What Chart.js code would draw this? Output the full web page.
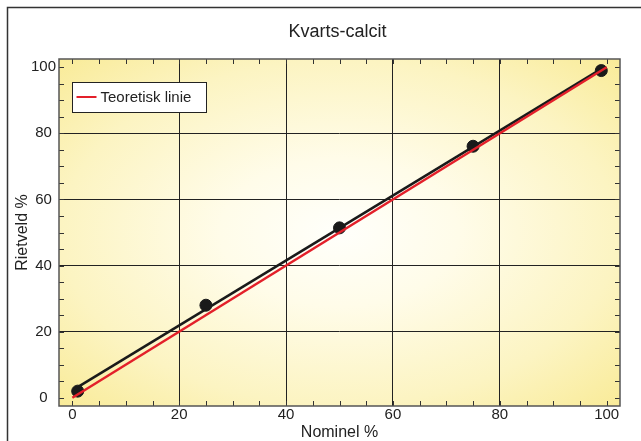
<!DOCTYPE html>
<html>
<head>
<meta charset="utf-8">
<script src="https://cdn.jsdelivr.net/npm/chart.js@4"></script>
<style>
  body { margin: 0; background: #fff; }
</style>
</head>
<body>
<canvas id="chart" width="641" height="441"></canvas>
<script>
const chartTitle = 'Kvarts-calcit';
const xTitle = 'Nominel %';
const yTitle = 'Rietveld %';
const legendLabel = 'Teoretisk linie';

// målte punkter
const nominel = [1, 25, 50, 75, 99];
const rietveld = [2, 28, 51.4, 76.1, 99];

// regressionslinje (sort) og teoretisk linie (rød)
const fitX = [1, 99];
const fitY = [3.2, 99.5];
const teoX = [0, 100];
const teoY = [0, 100];

const axisTicks = [0, 20, 40, 60, 80, 100];
const minorTicks = [0, 5, 10, 15, 20, 25, 30, 35, 40, 45, 50, 55, 60, 65, 70, 75, 80, 85, 90, 95, 100];

const FONT = '"Liberation Sans", Arial, Helvetica, sans-serif';
const INK = '#222';

function toXY(xs, ys) {
  return xs.map((x, i) => ({ x: x, y: ys[i] }));
}

function gridColor(ctx) {
  const v = ctx.tick ? ctx.tick.value : null;
  return (v === axisTicks[0] || v === axisTicks[axisTicks.length - 1]) ? 'rgba(0,0,0,0)' : '#222';
}

const decor = {
  id: 'decor',
  beforeDraw(chart) {
    const c = chart.ctx;
    const a = chart.chartArea;
    // ydre ramme
    c.save();
    c.strokeStyle = '#333';
    c.lineWidth = 1.5;
    c.strokeRect(7.5, 7.5, 660, 460);
    // titel
    c.fillStyle = INK;
    c.font = '18px ' + FONT;
    c.textAlign = 'center';
    c.textBaseline = 'middle';
    c.fillText(chartTitle, (a.left + a.right) / 2 - 2, 32);
    // gul baggrund
    const w = a.right - a.left, h = a.bottom - a.top;
    c.beginPath();
    c.rect(a.left, a.top, w, h);
    c.clip();
    c.translate((a.left + a.right) / 2, (a.top + a.bottom) / 2);
    c.scale(w / h, 1);
    const r = h / 2 * Math.SQRT2;
    const g = c.createRadialGradient(0, 0, 0, 0, 0, r);
    g.addColorStop(0, '#fffffb');
    g.addColorStop(0.3, '#fffce9');
    g.addColorStop(0.7, '#fcf4c2');
    g.addColorStop(1, '#f9eb98');
    c.fillStyle = g;
    c.fillRect(-2 * r, -2 * r, 4 * r, 4 * r);
    c.restore();
  },
  afterDatasetsDraw(chart) {
    const c = chart.ctx;
    const a = chart.chartArea;
    const xs = chart.scales.x, ys = chart.scales.y;
    c.save();
    // små indadvendte streger
    c.strokeStyle = '#333';
    c.lineWidth = 1;
    c.beginPath();
    minorTicks.forEach(v => {
      const px = Math.round(xs.getPixelForValue(v)) + 0.5;
      c.moveTo(px, a.bottom); c.lineTo(px, a.bottom - 5);
      c.moveTo(px, a.top); c.lineTo(px, a.top + 5);
      const py = Math.round(ys.getPixelForValue(v)) + 0.5;
      c.moveTo(a.left, py); c.lineTo(a.left + 5, py);
      c.moveTo(a.right, py); c.lineTo(a.right - 5, py);
    });
    c.stroke();
    // plotramme
    c.strokeStyle = '#555';
    c.lineWidth = 1.5;
    c.strokeRect(a.left, a.top, a.right - a.left, a.bottom - a.top);
    // forklaring
    const bx = 72.5, by = 82.5, bw = 134, bh = 30;
    c.fillStyle = '#fff';
    c.fillRect(bx, by, bw, bh);
    c.strokeStyle = '#222';
    c.lineWidth = 1;
    c.strokeRect(bx, by, bw, bh);
    c.strokeStyle = '#e3202a';
    c.lineWidth = 2;
    c.beginPath();
    c.moveTo(bx + 4, by + 14.5);
    c.lineTo(bx + 24, by + 14.5);
    c.stroke();
    c.fillStyle = INK;
    c.font = '15px ' + FONT;
    c.textAlign = 'left';
    c.textBaseline = 'middle';
    c.fillText(legendLabel, bx + 28, by + 15);
    c.restore();
  }
};

new Chart(document.getElementById('chart'), {
  type: 'scatter',
  data: {
    datasets: [
      {
        label: legendLabel,
        type: 'line',
        data: toXY(teoX, teoY),
        borderColor: '#e3202a',
        borderWidth: 2.5,
        pointRadius: 0,
        fill: false,
        order: 0
      },
      {
        label: 'fit',
        type: 'line',
        data: toXY(fitX, fitY),
        borderColor: '#1a1a1a',
        borderWidth: 2.5,
        pointRadius: 0,
        fill: false,
        order: 1
      },
      {
        label: 'Rietveld',
        data: toXY(nominel, rietveld),
        backgroundColor: '#1a1a1a',
        borderColor: '#1a1a1a',
        pointRadius: 6,
        pointHoverRadius: 6,
        order: 2
      }
    ]
  },
  options: {
    responsive: false,
    animation: false,
    events: [],
    layout: { padding: { top: 59, right: 21, left: 0, bottom: 0 } },
    plugins: {
      legend: { display: false },
      title: { display: false },
      tooltip: { enabled: false }
    },
    scales: {
      x: {
        type: 'linear',
        min: -2.5,
        max: 102.5,
        afterBuildTicks: s => { s.ticks = axisTicks.map(v => ({ value: v })); },
        afterFit: s => { s.height = 35; },
        ticks: { font: { family: FONT, size: 15 }, color: INK, padding: 0, maxRotation: 0 },
        grid: { drawTicks: false, color: gridColor, lineWidth: 1 },
        border: { display: false },
        title: { display: true, text: xTitle, color: INK, font: { family: FONT, size: 16, lineHeight: 1 }, padding: 0 }
      },
      y: {
        type: 'linear',
        min: -2.5,
        max: 102.5,
        afterBuildTicks: s => { s.ticks = axisTicks.map(v => ({ value: v })); },
        afterFit: s => { s.width = 59; },
        ticks: { font: { family: FONT, size: 15 }, color: INK, padding: 3, crossAlign: 'center' },
        grid: { drawTicks: false, color: gridColor, lineWidth: 1 },
        border: { display: false },
        title: { display: true, text: yTitle, color: INK, font: { family: FONT, size: 16 }, padding: { top: 13, bottom: 0 } }
      }
    }
  },
  plugins: [decor]
});
</script>
</body>
</html>
